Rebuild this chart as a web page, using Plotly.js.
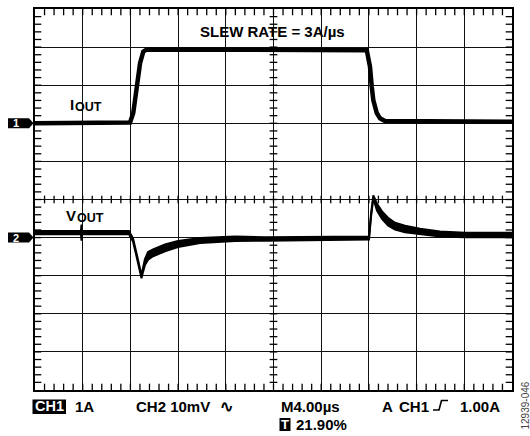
<!DOCTYPE html>
<html>
<head>
<meta charset="utf-8">
<script src="https://cdn.plot.ly/plotly-3.0.1.min.js"></script>
<style>html,body{margin:0;padding:0;background:#fff;}#chart{width:530px;height:436px;}</style>
</head>
<body>
<div id="chart"></div>
<script>
// ---- Data (time in µs, 4 µs/div; CH1 = I_OUT in A, 1 A/div; CH2 = V_OUT in mV, 10 mV/div) ----
const ch1Offset = 7;   // divisions (ground marker 1)
const ch1Scale = 1;    // A/div
const ch2Offset = 4;   // divisions (ground marker 2)
const ch2Scale = 10;   // mV/div

const iTime = [0, 7.97, 8.24, 8.53, 8.81, 9.08, 9.37, 27.82, 28.09, 28.24, 28.37, 28.66, 28.93, 29.35, 40];
const iAmp  = [0.0, 0.02, 0.27, 0.96, 1.58, 1.88, 1.94, 1.92, 1.49, 0.96, 0.61, 0.27, 0.13, 0.06, 0.04];

const vTime  = [0, 3.85, 3.9, 3.95, 7.88, 8.22, 8.55, 8.81, 8.93, 9.06, 9.22, 9.48, 9.90, 10.9, 11.99, 13.84, 16.77, 19.29, 27.76, 28.01, 28.18, 28.37, 28.68, 29.1, 29.6, 30.19, 31.03, 32.29, 33.96, 36.06, 40];
const vUpper = [1.7, 1.7, 3.4, 1.7, 1.7, -0.2, -4.6, -8.9, -9.9, -8.0, -5.6, -3.8, -3.1, -1.8, -0.9, -0.1, 0.3, 0.1, 0.2, 0.3, 6.3, 11.1, 8.9, 6.9, 5.2, 3.9, 3.1, 2.3, 1.6, 1.3, 1.3];
const vLower = [0.9, 0.9, -0.8, 0.9, 0.9, -1.0, -5.4, -9.7, -10.7, -9.0, -7.2, -5.8, -4.9, -3.6, -2.5, -1.4, -0.9, -0.8, -0.6, -0.5, 5.5, 10.3, 7.1, 4.9, 3.2, 2.1, 1.4, 0.9, 0.3, 0.1, 0.1];

const labels = {
  slew: 'SLEW RATE = 3A/µs',
  iMain: 'I', vMain: 'V', sub: 'OUT',
  ch1: 'CH1', ch1Scale: '1A',
  ch2: 'CH2 10mV', acSym: '∿',
  time: 'M4.00µs', trig: '21.90%', trigBox: 'T',
  trigA: 'A', trigCh: 'CH1', trigLevel: '1.00A',
  figId: '12939-046'
};

// ---- Layout helpers (page pixel -> paper fraction) ----
const L = 35, R = 18, T = 9, B = 46, W = 530, H = 436;
const PW = W - L - R, PH = H - T - B;
const px = x => (x - L) / PW;
const py = y => (H - B - y) / PH;

const FONT = 'Liberation Sans, Arial, Helvetica, sans-serif';
const bold = (size, color) => ({family: FONT, size: size, color: color || '#000', weight: 'bold'});

// graticule minor tick positions (5 subdivisions per division), derived from the axis ranges
const X_RANGE = [0, 40], Y_RANGE = [0, 10];
const X_DIV = 4, Y_DIV = 1, SUBS = 5;
const xMid = (X_RANGE[0] + X_RANGE[1]) / 2, yMid = (Y_RANGE[0] + Y_RANGE[1]) / 2;
const xt = [], yt = [];
for (let k = 1; k < 10 * SUBS; k++) { xt.push(X_RANGE[0] + k * X_DIV / SUBS); yt.push(Y_RANGE[0] + k * Y_DIV / SUBS); }
const rep = (arr, v) => arr.map(() => v);
const tickMarker = (sym, size) => ({symbol: sym, size: size, color: '#000', line: {color: '#000', width: 1.3}});
const tickTrace = (x, y, sym, size) => ({x: x, y: y, mode: 'markers', marker: tickMarker(sym, size), hoverinfo: 'skip', showlegend: false, cliponaxis: true});

const traces = [
  // graticule ticks: bottom/top borders, horizontal centre line
  tickTrace(xt.concat(xt), rep(xt, Y_RANGE[0]).concat(rep(xt, Y_RANGE[1])), 'line-ns', 9),
  tickTrace(xt, rep(xt, yMid), 'line-ns', 5.5),
  // left/right borders, vertical centre line
  tickTrace(rep(yt, X_RANGE[0]).concat(rep(yt, X_RANGE[1])), yt.concat(yt), 'line-ew', 9),
  tickTrace(rep(yt, xMid), yt, 'line-ew', 5.5),
  // signals
  {x: iTime, y: iAmp.map(a => ch1Offset + a / ch1Scale), mode: 'lines', line: {color: '#000', width: 4.5}, hoverinfo: 'skip', showlegend: false},
  {x: vTime, y: vUpper.map(v => ch2Offset + v / ch2Scale), mode: 'lines', line: {color: '#000', width: 2}, hoverinfo: 'skip', showlegend: false},
  {x: vTime, y: vLower.map(v => ch2Offset + v / ch2Scale), mode: 'lines', fill: 'tonexty', fillcolor: '#000', line: {color: '#000', width: 2}, hoverinfo: 'skip', showlegend: false}
];

const axisCommon = {
  showticklabels: false, zeroline: false, fixedrange: true, ticks: '',
  showgrid: true, gridcolor: '#111', gridwidth: 1.1,
  showline: true, linecolor: '#000', linewidth: 2, mirror: true
};

const ann = (text, x, y, font, xanchor, extra) => Object.assign({
  text: text, xref: 'paper', yref: 'paper', x: x, y: y, xanchor: xanchor || 'left', yanchor: 'middle', showarrow: false, font: font
}, extra || {});

const layout = {
  width: W, height: H,
  margin: {l: L, r: R, t: T, b: B, pad: 0},
  paper_bgcolor: '#fff', plot_bgcolor: '#fff',
  showlegend: false,
  xaxis: Object.assign({}, axisCommon, {range: X_RANGE, dtick: X_DIV, tick0: 0}),
  yaxis: Object.assign({}, axisCommon, {range: Y_RANGE, dtick: Y_DIV, tick0: 0}),
  shapes: [
    // ground marker 1
    {type: 'path', xref: 'paper', yref: 'y', xsizemode: 'pixel', ysizemode: 'pixel', xanchor: 0, yanchor: ch1Offset,
     path: 'M-27,5 L-6,5 L-1.5,0 L-6,-5 L-27,-5 Z', fillcolor: '#000', line: {width: 0}},
    // ground marker 2
    {type: 'path', xref: 'paper', yref: 'y', xsizemode: 'pixel', ysizemode: 'pixel', xanchor: 0, yanchor: ch2Offset,
     path: 'M-27,5 L-6,5 L-1.5,0 L-6,-5 L-27,-5 Z', fillcolor: '#000', line: {width: 0}},
    // CH1 box
    {type: 'rect', xref: 'paper', yref: 'paper', x0: px(32.5), x1: px(66), y0: py(414), y1: py(399.5), fillcolor: '#000', line: {width: 0}},
    // T box
    {type: 'rect', xref: 'paper', yref: 'paper', x0: px(279.5), x1: px(290.5), y0: py(431), y1: py(418), fillcolor: '#000', line: {width: 0}},
    // rising edge trigger symbol
    {type: 'path', xref: 'paper', yref: 'paper', xsizemode: 'pixel', ysizemode: 'pixel', xanchor: px(433), yanchor: py(410),
     path: 'M0,0 L6,0 L8.5,9.5 L15,9.5', line: {color: '#000', width: 1.6}}
  ],
  annotations: [
    ann(labels.slew, px(272.5), py(31.5), bold(15), 'center'),
    ann(labels.iMain, px(67.5), py(104.8), bold(15)),
    ann(labels.sub, px(72.5), py(107.5), bold(12.5)),
    ann(labels.vMain, px(64), py(215), bold(15)),
    ann(labels.sub, px(74.5), py(217.8), bold(12.5)),
    {text: '1', xref: 'paper', yref: 'y', x: px(16), y: ch1Offset, xanchor: 'center', yanchor: 'middle', showarrow: false, font: bold(11, '#fff')},
    {text: '2', xref: 'paper', yref: 'y', x: px(16), y: ch2Offset, xanchor: 'center', yanchor: 'middle', showarrow: false, font: bold(11, '#fff')},
    ann(labels.ch1, px(49.2), py(406.5), bold(14.5, '#fff'), 'center'),
    ann(labels.ch1Scale, px(73), py(406.5), bold(15)),
    ann(labels.ch2, px(134), py(406.5), bold(15)),
    ann(labels.acSym, px(218), py(406.5), bold(16)),
    ann(labels.time, px(279), py(406.5), bold(15)),
    ann(labels.trigBox, px(285), py(424.5), bold(13, '#fff'), 'center'),
    ann(labels.trig, px(294), py(424.5), bold(15)),
    ann(labels.trigA, px(380), py(406.5), bold(15)),
    ann(labels.trigCh, px(396.5), py(406.5), bold(15)),
    ann(labels.trigLevel, px(458), py(406.5), bold(15)),
    ann(labels.figId, px(524.5), py(406), {family: FONT, size: 10, color: '#444'}, 'center', {textangle: -90})
  ]
};

Plotly.newPlot('chart', traces, layout, {staticPlot: true, displayModeBar: false});
</script>
</body>
</html>
